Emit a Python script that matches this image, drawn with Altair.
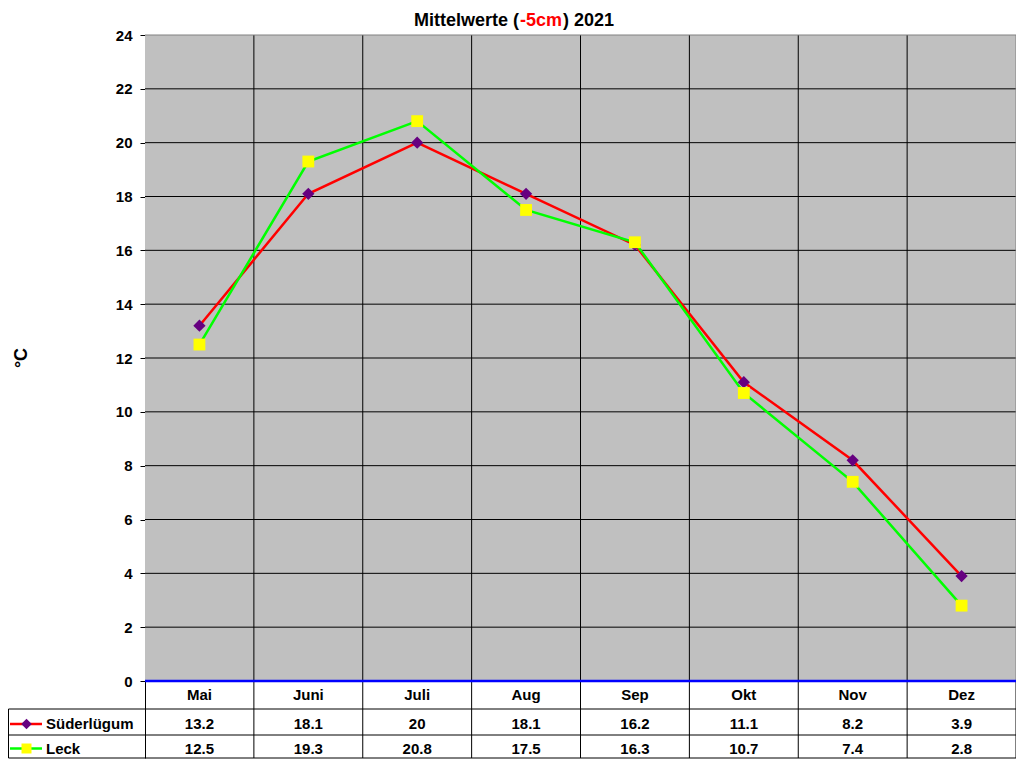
import altair as alt
import pandas as pd

# ---- data ----
months = ["Mai", "Juni", "Juli", "Aug", "Sep", "Okt", "Nov", "Dez"]
series_names = ["Süderlügum", "Leck"]
suederluegum = [13.2, 18.1, 20, 18.1, 16.2, 11.1, 8.2, 3.9]
leck = [12.5, 19.3, 20.8, 17.5, 16.3, 10.7, 7.4, 2.8]
y_ticks = list(range(0, 25, 2))
title_parts = ["Mittelwerte (", "-5cm", ") 2021"]
y_title = "°C"

FONT = "Liberation Sans"
n = len(months)

df = pd.DataFrame({
    "month": months,
    "pos": [i + 0.5 for i in range(n)],
    "S": suederluegum,
    "L": leck,
})
df["S_lab"] = [f"{v:g}" for v in suederluegum]
df["L_lab"] = [f"{v:g}" for v in leck]

grid_df = pd.DataFrame({"tick": [t for t in y_ticks if 0 < t < 24]})
vgrid_df = pd.DataFrame({"b": list(range(1, n))})
one = pd.DataFrame({"k": [0]})

W = 871
LEFT = 137
X0 = 8 + LEFT            # page x of plot-area left edge
PXU = 646 / 24.0         # px per y unit (plot area 35..681)
PXX = W / n              # px per x unit


def py(page_y):
    """page y (px) -> y data units"""
    return (681 - page_y) / PXU


def px(page_x):
    """page x (px) -> x data units"""
    return (page_x - X0) / PXX


YMIN = py(758)
xs = alt.Scale(domain=[0, n], nice=False, zero=False)
ys = alt.Scale(domain=[YMIN, 24], nice=False, zero=False)
H = round((24 - YMIN) * PXU)

# table row geometry
ROW1_BOT = py(709)
ROW2_BOT = py(735)
MONTH_BASE = py(700)
S_BASE = py(728.5)
L_BASE = py(754)
S_KEY = py(724)
L_KEY = py(748.5)
LEG_LEFT = px(8.5)


def X(v):
    return alt.X(v, scale=xs, axis=None) if isinstance(v, str) else alt.X(datum=v, scale=xs, axis=None)


def Y(v):
    return alt.Y(v, scale=ys, axis=None) if isinstance(v, str) else alt.Y(datum=v, scale=ys, axis=None)


bg = alt.Chart(one).mark_rect(color="#C0C0C0").encode(
    x=X(0), x2=alt.X2(datum=n), y=Y(0), y2=alt.Y2(datum=24))

hgrid = alt.Chart(grid_df).mark_rule(color="black", strokeWidth=1).encode(
    y=alt.Y("tick:Q", scale=ys, axis=alt.Axis(
        values=y_ticks, title=None, grid=False, labelFont=FONT, labelFontWeight="bold",
        labelFontSize=15, labelColor="black", tickColor="black", tickSize=5,
        labelPadding=8, domainColor="black", domainWidth=1, tickWidth=1)),
    x=X(0), x2=alt.X2(datum=n))

vgrid = alt.Chart(vgrid_df).mark_rule(color="black", strokeWidth=1).encode(
    x=X("b:Q"), y=Y(YMIN), y2=alt.Y2(datum=24))

top_border = alt.Chart(one).mark_rule(color="#808080", strokeWidth=1).encode(
    y=Y(24), x=X(0), x2=alt.X2(datum=n))
right_border = alt.Chart(one).mark_rule(color="#808080", strokeWidth=1).encode(
    x=X(n), y=Y(0), y2=alt.Y2(datum=24))
right_border_tab = alt.Chart(one).mark_rule(color="black", strokeWidth=1).encode(
    x=X(n), y=Y(YMIN), y2=alt.Y2(datum=0))

tab_lines = [
    alt.Chart(one).mark_rule(color="black", strokeWidth=1).encode(
        y=Y(v), x=X(LEG_LEFT), x2=alt.X2(datum=n))
    for v in (ROW1_BOT, ROW2_BOT, YMIN)
]
tab_left = alt.Chart(one).mark_rule(color="black", strokeWidth=1).encode(
    x=X(LEG_LEFT), y=Y(ROW1_BOT), y2=alt.Y2(datum=YMIN))

zero_line = alt.Chart(one).mark_rule(color="#0000FF", strokeWidth=2.5).encode(
    y=Y(0), x=X(0), x2=alt.X2(datum=n))

line_s = alt.Chart(df).mark_line(color="#FF0000", strokeWidth=2.5).encode(x=X("pos:Q"), y=Y("S:Q"))
line_l = alt.Chart(df).mark_line(color="#00FF00", strokeWidth=2.5).encode(x=X("pos:Q"), y=Y("L:Q"))
pts_s = alt.Chart(df).mark_point(shape="diamond", filled=True, color="#660080", opacity=1,
                                 size=150, strokeWidth=0).encode(x=X("pos:Q"), y=Y("S:Q"))
pts_l = alt.Chart(df).mark_point(shape="square", filled=True, color="#FFFF00", opacity=1,
                                 size=140, strokeWidth=0).encode(x=X("pos:Q"), y=Y("L:Q"))

txt = dict(font=FONT, fontWeight="bold", fontSize=15, color="black", baseline="alphabetic")
month_txt = alt.Chart(df).mark_text(align="center", **txt).encode(
    x=X("pos:Q"), y=Y(MONTH_BASE), text="month:N")
s_txt = alt.Chart(df).mark_text(align="center", **txt).encode(
    x=X("pos:Q"), y=Y(S_BASE), text="S_lab:N")
l_txt = alt.Chart(df).mark_text(align="center", **txt).encode(
    x=X("pos:Q"), y=Y(L_BASE), text="L_lab:N")

leg_df = pd.DataFrame({"name": series_names})
leg_s_lab = alt.Chart(leg_df.iloc[[0]]).mark_text(align="left", **txt).encode(
    x=X(px(46)), y=Y(S_BASE), text="name:N")
leg_l_lab = alt.Chart(leg_df.iloc[[1]]).mark_text(align="left", **txt).encode(
    x=X(px(46)), y=Y(L_BASE), text="name:N")
leg_s_line = alt.Chart(one).mark_rule(color="#FF0000", strokeWidth=2.5).encode(
    x=X(px(10)), x2=alt.X2(datum=px(42)), y=Y(S_KEY))
leg_l_line = alt.Chart(one).mark_rule(color="#00FF00", strokeWidth=2.5).encode(
    x=X(px(10)), x2=alt.X2(datum=px(42)), y=Y(L_KEY))
leg_s_pt = alt.Chart(one).mark_point(shape="diamond", filled=True, color="#660080", opacity=1,
                                     size=110, strokeWidth=0).encode(x=X(px(26.5)), y=Y(S_KEY))
leg_l_pt = alt.Chart(one).mark_point(shape="square", filled=True, color="#FFFF00", opacity=1,
                                     size=100, strokeWidth=0).encode(x=X(px(26.5)), y=Y(L_KEY))

tstyle = dict(font=FONT, fontWeight="bold", fontSize=18, baseline="alphabetic")
t1 = alt.Chart(pd.DataFrame({"t": [title_parts[0]]})).mark_text(align="right", color="black", **tstyle).encode(
    text="t:N", x=alt.value(519 - X0), y=alt.value(-9.3))
t2 = alt.Chart(pd.DataFrame({"t": [title_parts[1]]})).mark_text(align="left", color="#FF0000", **tstyle).encode(
    text="t:N", x=alt.value(520 - X0), y=alt.value(-9.3))
t3 = alt.Chart(pd.DataFrame({"t": [title_parts[2]]})).mark_text(align="left", color="black", **tstyle).encode(
    text="t:N", x=alt.value(563 - X0), y=alt.value(-9.3))
ytitle = alt.Chart(pd.DataFrame({"t": [y_title]})).mark_text(
    align="center", baseline="middle", angle=270, font=FONT, fontWeight="bold", fontSize=18,
    color="black").encode(text="t:N", x=alt.value(22 - X0), y=alt.value(323))

chart = alt.layer(
    bg, hgrid, vgrid, top_border, right_border, right_border_tab, *tab_lines, tab_left,
    line_s, line_l, pts_s, pts_l, zero_line,
    month_txt, s_txt, l_txt, leg_s_line, leg_l_line, leg_s_pt, leg_l_pt, leg_s_lab, leg_l_lab,
    t1, t2, t3, ytitle,
).resolve_axis(
    x="independent", y="independent"
).properties(
    width=W, height=H,
    padding={"left": LEFT, "top": 27, "right": 0, "bottom": 1},
    autosize=alt.AutoSizeParams(type="none"),
    background="white",
).configure_view(strokeWidth=0)

chart.save("out.html", embed_options={"renderer": "svg", "actions": False})
